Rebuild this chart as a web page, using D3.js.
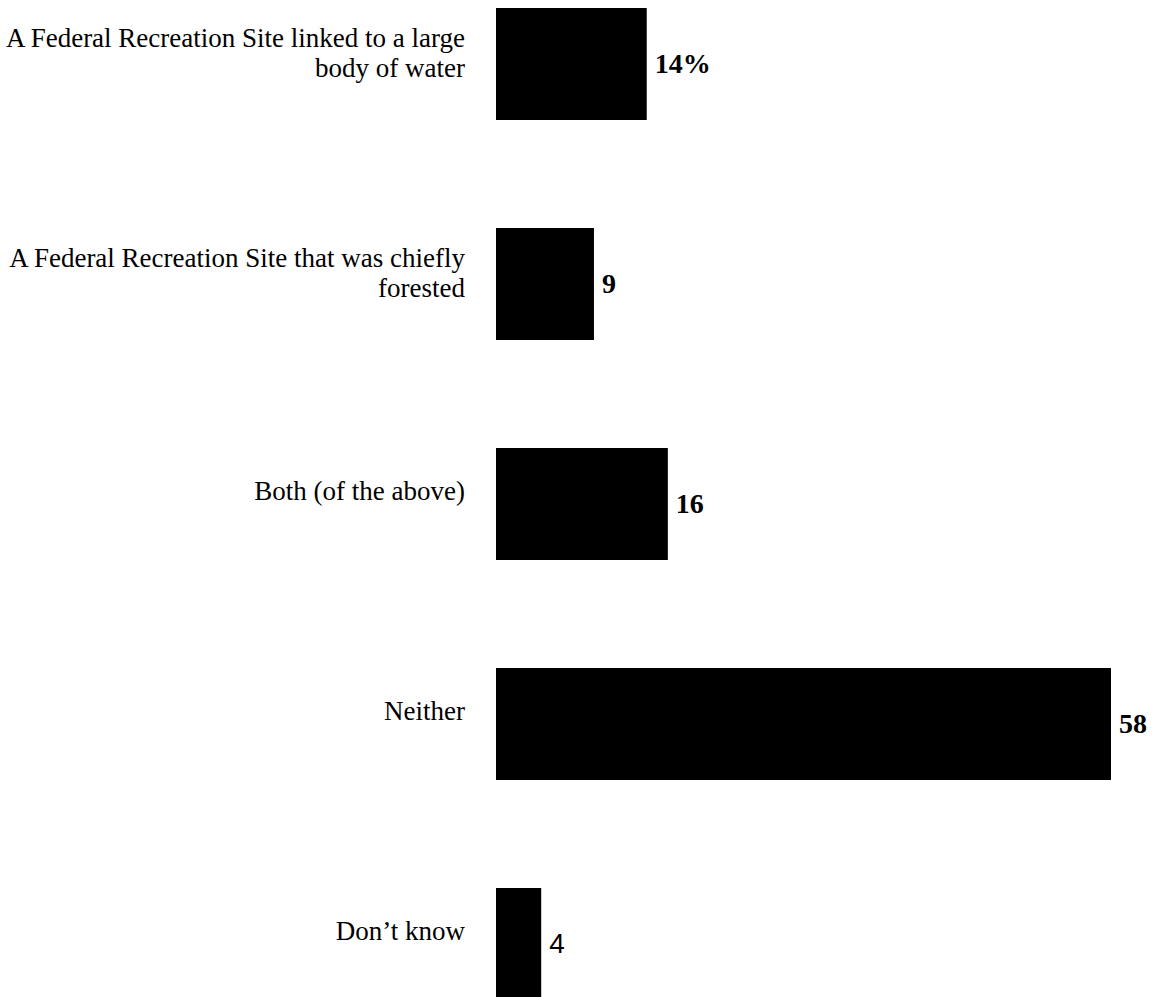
<!DOCTYPE html>
<html>
<head>
<meta charset="utf-8">
<script src="https://cdn.jsdelivr.net/npm/d3@7"></script>
<style>
  html, body { margin: 0; padding: 0; background: #fff; }
  svg { display: block; }
</style>
</head>
<body>
<svg id="chart" width="1154" height="997"></svg>
<script>
// Survey answers and their shares (percent)
const categories = [
  "A Federal Recreation Site linked to a large body of water",
  "A Federal Recreation Site that was chiefly forested",
  "Both (of the above)",
  "Neither",
  "Don\u2019t know"
];
// Category labels broken into display lines
const categoryLines = [
  ["A Federal Recreation Site linked to a large", "body of water"],
  ["A Federal Recreation Site that was chiefly", "forested"],
  ["Both (of the above)"],
  ["Neither"],
  ["Don\u2019t know"]
];
const values = [14, 9, 16, 58, 4];
const valueLabels = ["14%", "9", "16", "58", "4"];

const svg = d3.select("#chart");

const barBase = 496;
const x = d3.scaleLinear().domain([0, 58]).range([499, 1111]);
const y = d3.scaleBand()
  .domain(categories)
  .range([8, 1000])
  .paddingInner(108 / 220)
  .paddingOuter(0);

const rows = categories.map((c, i) => ({
  cat: c, lines: categoryLines[i], value: values[i], label: valueLabels[i]
}));

// Bars
svg.append("g").selectAll("rect")
  .data(rows)
  .join("rect")
  .attr("x", barBase)
  .attr("y", d => y(d.cat))
  .attr("width", d => x(d.value) - barBase)
  .attr("height", y.bandwidth())
  .attr("fill", "#000");

// Category labels, right-aligned left of the bars
const labelX = 465;
const labelG = svg.append("g")
  .attr("font-family", "'Liberation Serif', 'Times New Roman', serif")
  .attr("font-size", 27)
  .attr("fill", "#000")
  .attr("text-anchor", "end");

rows.forEach(d => {
  const cy = y(d.cat) + y.bandwidth() / 2;
  const t = labelG.append("text").attr("x", labelX);
  if (d.lines.length === 1) {
    t.append("tspan").attr("x", labelX).attr("y", cy - 4).text(d.lines[0]);
  } else {
    t.append("tspan").attr("x", labelX).attr("y", cy - 17).text(d.lines[0]);
    t.append("tspan").attr("x", labelX).attr("y", cy + 13).text(d.lines[1]);
  }
});

// Value labels at the bar ends
svg.append("g").selectAll("text")
  .data(rows)
  .join("text")
  .attr("x", d => x(d.value) + 8)
  .attr("y", d => y(d.cat) + y.bandwidth() / 2 + 9)
  .attr("font-family", (d, i) => i === rows.length - 1
    ? "'Liberation Sans', Arial, sans-serif"
    : "'Liberation Serif', 'Times New Roman', serif")
  .attr("font-weight", (d, i) => i === rows.length - 1 ? "normal" : "bold")
  .attr("font-size", 28)
  .attr("fill", "#000")
  .text(d => d.label);
</script>
</body>
</html>
